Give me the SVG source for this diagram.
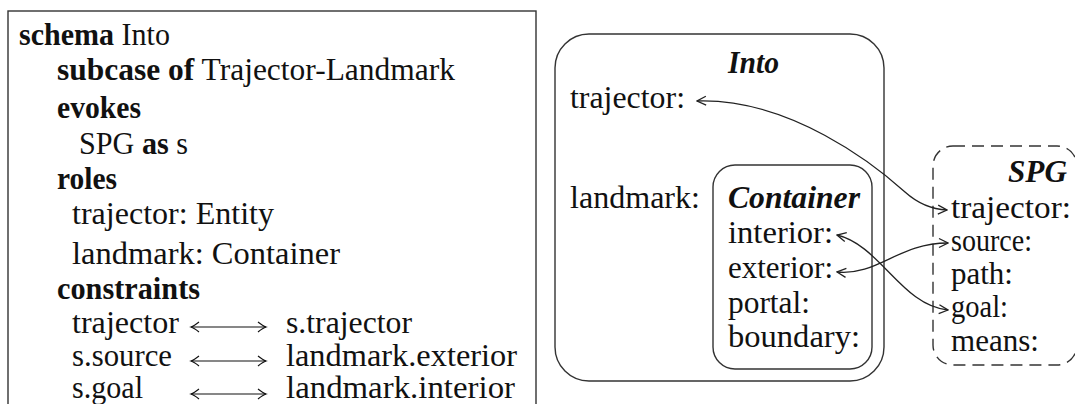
<svg xmlns="http://www.w3.org/2000/svg" width="1075" height="404" viewBox="0 0 1075 404">
<style>
.t{font-family:'Liberation Serif','Times New Roman','DejaVu Serif',serif;font-size:31px;fill:#111}
.b{font-weight:bold}
.bi{font-weight:bold;font-style:italic}
.box{fill:none;stroke:#333;stroke-width:1.4}
.dash{stroke-dasharray:12 7}
.conn{fill:none;stroke:#222;stroke-width:1.3;marker-start:url(#ah);marker-end:url(#ah)}
.eq{fill:none;stroke:#111;stroke-width:1.2;marker-start:url(#ah2);marker-end:url(#ah2)}
</style>
<defs>
<marker id="ah" markerUnits="userSpaceOnUse" markerWidth="12" markerHeight="12" viewBox="-11 -6 12 12" refX="0" refY="0" orient="auto-start-reverse">
<path d="M-9,-4.5 L0,0 L-9,4.5" fill="none" stroke="#222" stroke-width="1.3"/>
</marker>
<marker id="ah2" markerUnits="userSpaceOnUse" markerWidth="14" markerHeight="14" viewBox="-12 -7 14 14" refX="0" refY="0" orient="auto-start-reverse">
<path d="M-8,-5 Q-3,-1 0,0 Q-3,1 -8,5" fill="none" stroke="#111" stroke-width="1.2"/>
</marker>
</defs>
<rect width="1075" height="404" fill="#fff"/>

<g id="schema">
<rect class="box" x="8" y="11" width="528" height="430"/>
<text class="t" x="19" y="45" textLength="151" lengthAdjust="spacingAndGlyphs"><tspan class="b">schema</tspan> Into</text>
<text class="t" x="57" y="80" textLength="398" lengthAdjust="spacingAndGlyphs"><tspan class="b">subcase of</tspan> Trajector-Landmark</text>
<text class="t b" x="57" y="118" textLength="84" lengthAdjust="spacingAndGlyphs">evokes</text>
<text class="t" x="79" y="154" textLength="109" lengthAdjust="spacingAndGlyphs">SPG <tspan class="b">as</tspan> s</text>
<text class="t b" x="57" y="189" textLength="60" lengthAdjust="spacingAndGlyphs">roles</text>
<text class="t" x="72" y="224" textLength="202" lengthAdjust="spacingAndGlyphs">trajector: Entity</text>
<text class="t" x="72" y="264" textLength="268" lengthAdjust="spacingAndGlyphs">landmark: Container</text>
<text class="t b" x="57" y="299" textLength="143" lengthAdjust="spacingAndGlyphs">constraints</text>
<text class="t" x="72" y="333" textLength="107" lengthAdjust="spacingAndGlyphs">trajector</text>
<text class="t" x="72" y="366" textLength="100" lengthAdjust="spacingAndGlyphs">s.source</text>
<text class="t" x="72" y="398" textLength="71" lengthAdjust="spacingAndGlyphs">s.goal</text>
<line class="eq" x1="191" y1="327" x2="266" y2="327"/>
<line class="eq" x1="191" y1="361" x2="266" y2="361"/>
<line class="eq" x1="191" y1="394" x2="266" y2="394"/>
<text class="t" x="286" y="333" textLength="126" lengthAdjust="spacingAndGlyphs">s.trajector</text>
<text class="t" x="286" y="366" textLength="231" lengthAdjust="spacingAndGlyphs">landmark.exterior</text>
<text class="t" x="286" y="398" textLength="229" lengthAdjust="spacingAndGlyphs">landmark.interior</text>
</g>

<g id="into">
<rect class="box" x="555" y="34" width="329" height="347" rx="34" ry="34"/>
<text class="t bi" x="728" y="73" textLength="51" lengthAdjust="spacingAndGlyphs">Into</text>
<text class="t" x="570" y="108" textLength="115" lengthAdjust="spacingAndGlyphs">trajector:</text>
<text class="t" x="570" y="208" textLength="130" lengthAdjust="spacingAndGlyphs">landmark:</text>
</g>

<g id="container">
<rect class="box" x="713" y="165" width="159" height="204" rx="22" ry="22"/>
<text class="t bi" x="728" y="208" textLength="132" lengthAdjust="spacingAndGlyphs">Container</text>
<text class="t" x="728" y="243" textLength="105" lengthAdjust="spacingAndGlyphs">interior:</text>
<text class="t" x="728" y="278" textLength="105" lengthAdjust="spacingAndGlyphs">exterior:</text>
<text class="t" x="728" y="313" textLength="82" lengthAdjust="spacingAndGlyphs">portal:</text>
<text class="t" x="728" y="347" textLength="132" lengthAdjust="spacingAndGlyphs">boundary:</text>
</g>

<g id="spg">
<rect class="box dash" x="933" y="146" width="144" height="219" rx="20" ry="20"/>
<text class="t bi" x="1008" y="182" textLength="59" lengthAdjust="spacingAndGlyphs">SPG</text>
<text class="t" x="951" y="218" textLength="120" lengthAdjust="spacingAndGlyphs">trajector:</text>
<text class="t" x="951" y="251" textLength="81" lengthAdjust="spacingAndGlyphs">source:</text>
<text class="t" x="951" y="284" textLength="62" lengthAdjust="spacingAndGlyphs">path:</text>
<text class="t" x="951" y="317" textLength="57" lengthAdjust="spacingAndGlyphs">goal:</text>
<text class="t" x="951" y="351" textLength="88" lengthAdjust="spacingAndGlyphs">means:</text>
</g>

<g id="connectors">
<path class="conn" d="M697,101 C790,98 875,165 905,192 Q924,209 947,210"/>
<path class="conn" d="M837,272 C878,276 898,243 948,243"/>
<path class="conn" d="M837,235 C880,245 902,306 948,310"/>
</g>
</svg>
